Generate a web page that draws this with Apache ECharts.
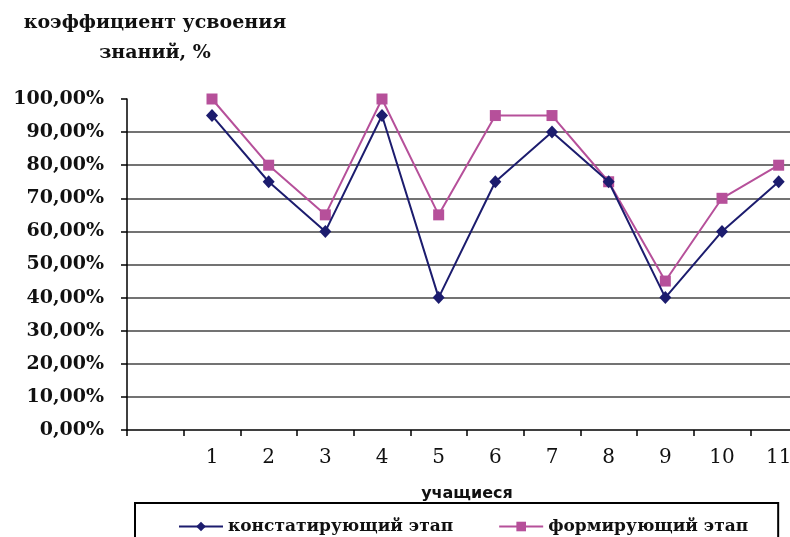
<!DOCTYPE html>
<html>
<head>
<meta charset="utf-8">
<script src="https://cdn.jsdelivr.net/npm/echarts@6/dist/echarts.min.js"></script>
<style>
  html, body { margin: 0; padding: 0; background: #fff; }
  #chart { width: 790px; height: 537px; }
</style>
</head>
<body>
<div id="chart"></div>
<script>
// Pupils 1..11, with one empty slot ahead of the first pupil
const pupils = ['1', '2', '3', '4', '5', '6', '7', '8', '9', '10', '11'];
const categories = [''].concat(pupils);

// Knowledge acquisition coefficient, %
const ascertaining = [95, 75, 60, 95, 40, 75, 90, 75, 40, 60, 75];
const forming = [100, 80, 65, 100, 65, 95, 95, 75, 45, 70, 80];

const seriesNames = ['констатирующий этап', 'формирующий этап'];
const yTicks = { min: 0, max: 100, step: 10 };

const serif = '"DejaVu Serif", "Liberation Serif", serif';

const chart = echarts.init(document.getElementById('chart'), null, { renderer: 'canvas' });

chart.setOption({
  backgroundColor: '#ffffff',
  animation: false,
  title: {
    text: 'коэффициент усвоения\nзнаний, %',
    left: 150,
    top: 3,
    textAlign: 'center',
    textStyle: {
      fontFamily: serif,
      fontWeight: 'bold',
      fontSize: 19,
      lineHeight: 30,
      color: '#111'
    }
  },
  legend: {
    data: seriesNames,
    left: 135,
    top: 503,
    orient: 'horizontal',
    padding: [15, 30, 20, 43],
    itemGap: 45,
    itemWidth: 44,
    itemHeight: 12,
    borderColor: '#000',
    borderWidth: 2,
    textStyle: {
      fontFamily: serif,
      fontWeight: 'bold',
      fontSize: 17,
      color: '#111'
    }
  },
  grid: {
    left: 127,
    top: 99,
    width: 680,
    bottom: 107,
    containLabel: false,
    outerBoundsMode: 'none'
  },
  xAxis: {
    type: 'category',
    data: categories,
    boundaryGap: true,
    name: 'учащиеся',
    nameLocation: 'middle',
    nameGap: 56,
    nameTextStyle: {
      fontFamily: '"DejaVu Sans", "Liberation Sans", sans-serif',
      fontWeight: 'bold',
      fontSize: 16,
      color: '#111'
    },
    axisLine: { show: true, lineStyle: { color: '#000', width: 1.5 } },
    axisTick: { show: true, inside: false, length: 6, lineStyle: { color: '#000', width: 1.5 } },
    axisLabel: {
      margin: 18,
      fontFamily: serif,
      fontSize: 20,
      color: '#111'
    },
    splitLine: { show: false }
  },
  yAxis: {
    type: 'value',
    min: yTicks.min,
    max: yTicks.max,
    interval: yTicks.step,
    axisLine: { show: true, lineStyle: { color: '#000', width: 1.5 } },
    axisTick: { show: true, inside: false, length: 6, lineStyle: { color: '#000', width: 1.5 } },
    axisLabel: {
      margin: 23,
      fontFamily: serif,
      fontWeight: 'bold',
      fontSize: 19,
      color: '#111',
      formatter: v => v.toFixed(2).replace('.', ',') + '%'
    },
    splitLine: {
      show: true,
      showMinLine: false,
      showMaxLine: false,
      lineStyle: { color: '#444', width: 1.5 }
    }
  },
  series: [
    {
      name: seriesNames[0],
      type: 'line',
      data: [null].concat(ascertaining),
      symbol: 'diamond',
      symbolSize: [12, 13],
      lineStyle: { color: '#1c1c6e', width: 2 },
      itemStyle: { color: '#1c1c6e' },
      z: 3
    },
    {
      name: seriesNames[1],
      type: 'line',
      data: [null].concat(forming),
      symbol: 'rect',
      symbolSize: 11,
      lineStyle: { color: '#b6509a', width: 2 },
      itemStyle: { color: '#b6509a' },
      z: 2
    }
  ]
});
</script>
</body>
</html>
